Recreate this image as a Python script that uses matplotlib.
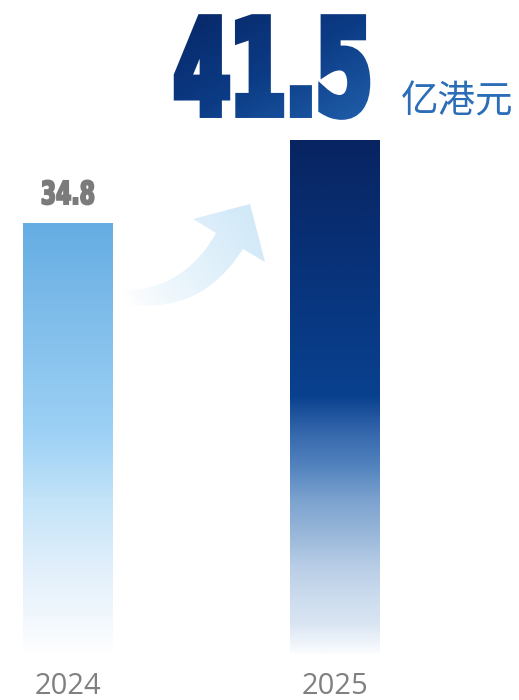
import numpy as np
import matplotlib.pyplot as plt
from matplotlib.colors import to_rgba
from matplotlib.patches import PathPatch
from matplotlib.path import Path
from matplotlib.transforms import Affine2D, Bbox
import matplotlib.patheffects as pe

# data
years = ['2024', '2025']
values = [34.8, 41.5]
value_labels = ['34.8', '41.5']
unit = '亿港元'

W, H = 519, 700
PT = 0.72  # points per pixel at dpi 100


def mix(stops, t):
    pos = np.array([s[0] for s in stops])
    cols = np.array([to_rgba(s[1]) for s in stops])
    return tuple(np.interp(t, pos, cols[:, k]) for k in range(4))


def gradient(stops, n=400):
    t = np.linspace(0, 1, n)
    return np.array([mix(stops, v) for v in t])[:, None, :]


class Tall(pe.AbstractPathEffect):
    """Stretch the glyphs upward from the baseline, thicken them, and fill
    with a diagonal gradient."""

    def __init__(self, sy, lw_px, stops, cell=4):
        super().__init__()
        self.sy, self.lw, self.stops, self.cell = sy, lw_px, stops, cell

    def draw_path(self, renderer, gc, tpath, affine, rgbFace=None):
        base = affine.transform([[0, 0]])[0][1]
        aff = affine + Affine2D().translate(0, -base).scale(1, self.sy).translate(0, base)
        bb = tpath.get_extents(aff)
        m = self.lw
        x0, x1 = np.floor(bb.x0 - m), np.ceil(bb.x1 + m)
        y0, y1 = np.floor(bb.y0 - m), np.ceil(bb.y1 + m)
        single = len(self.stops) == 1
        xs = [x0, x1] if single else np.arange(x0, x1 + self.cell, self.cell)
        ys = [y0, y1] if single else np.arange(y0, y1 + self.cell, self.cell)
        for a, b in zip(xs[:-1], xs[1:]):
            for c, d in zip(ys[:-1], ys[1:]):
                u = ((a + b) / 2 - x0) / (x1 - x0)
                v = (y1 - (c + d) / 2) / (y1 - y0)
                col = to_rgba(self.stops[0][1]) if single else mix(self.stops, 0.5 * (u + v))
                g = renderer.new_gc()
                g.copy_properties(gc)
                g.set_clip_rectangle(Bbox([[a, c], [b, d]]))
                g.set_linewidth(self.lw * PT)
                g.set_joinstyle('miter')
                g.set_foreground(col)
                renderer.draw_path(g, tpath, aff, col)
                g.restore()


bar_stops = [
    [(0.0, '#64ade3'), (0.18, '#7bbae9'), (0.49, '#9dd1f5'), (0.64, '#c2e3f8'),
     (0.80, '#e1effb'), (0.92, '#f2f8fd'), (1.0, '#ffffff')],
    [(0.0, '#082461'), (0.31, '#08367f'), (0.50, '#0a418f'), (0.57, '#3567ac'),
     (0.64, '#5585bf'), (0.70, '#7ba2cf'), (0.77, '#9ab8da'), (0.83, '#b8cde6'),
     (0.90, '#cfdeef'), (0.94, '#d8e4f2'), (1.0, '#fbfcfe')],
]

fig = plt.figure(figsize=(W / 100, H / 100), dpi=100)
ax = fig.add_axes([0, 0, 1, 1])
ax.set_xlim(-0.2547, 1.689)
ax.set_ylim(-3.71, 52.8)
ax.axis('off')

bar_w = 0.337
x = np.arange(len(values))
bars = ax.bar(x, values, width=bar_w, color='none', edgecolor='none')
for b, stops in zip(bars, bar_stops):
    x0, w, h = b.get_x(), b.get_width(), b.get_height()
    im = ax.imshow(gradient(stops), extent=(x0, x0 + w, 0, h), origin='upper',
                   aspect='auto', interpolation='bilinear', zorder=2)
    im.set_clip_path(b)

# decorative arrow, pixel space overlay
axp = fig.add_axes([0, 0, 1, 1])
axp.set_xlim(0, W)
axp.set_ylim(H, 0)
axp.axis('off')
axp.patch.set_alpha(0)

verts = [
    (122, 291),
    (172, 290), (200, 262), (216, 233),
    (193, 219), (250, 204), (265, 262), (243, 249),
    (215, 292), (180, 310), (128, 305),
    (122, 291),
]
codes = [Path.MOVETO, Path.CURVE4, Path.CURVE4, Path.CURVE4,
         Path.LINETO, Path.LINETO, Path.LINETO, Path.LINETO,
         Path.CURVE4, Path.CURVE4, Path.CURVE4, Path.CLOSEPOLY]
arrow = PathPatch(Path(verts, codes), fc='none', ec='none')
axp.add_patch(arrow)
gx, gy = np.meshgrid(np.linspace(115, 270, 200), np.linspace(195, 315, 160))
dv = np.array([250 - 125, 215 - 300.0])
t = np.clip(((gx - 125) * dv[0] + (gy - 300) * dv[1]) / (dv @ dv), 0, 1)
c0 = np.array(to_rgba('#ffffff'))
c1 = np.array(to_rgba('#d2e9f8'))
arr = c0 + (c1 - c0) * t[..., None] ** 0.8
im = axp.imshow(arr, extent=(115, 270, 315, 195), aspect='auto', zorder=1)
im.set_clip_path(arrow)

# value labels
label_cfg = [
    dict(dx=0, dy=19, size=15.8, sy=1.44, lw=2,
         stops=[(0, '#7b7b7b')]),
    dict(dx=-62, dy=26, size=57.7, sy=1.64, lw=8,
         stops=[(0, '#072565'), (0.5, '#0b3a84'), (1, '#2160ac')]),
]
for xi, v, s, cfg in zip(x, values, value_labels, label_cfg):
    ax.annotate(s, xy=(xi, v), xytext=(cfg['dx'] * PT, cfg['dy'] * PT),
                textcoords='offset points', ha='center', va='baseline',
                fontsize=cfg['size'], color=cfg['stops'][0][1], zorder=5,
                family='DejaVu Sans', weight='bold',
                path_effects=[Tall(cfg['sy'], cfg['lw'], cfg['stops'])])

# unit
ax.annotate(unit, xy=(x[-1], values[-1]), xytext=(66 * PT, 38 * PT),
            textcoords='offset points', ha='left', va='center',
            fontsize=27, color='#2c6db7', family=['Noto Sans CJK SC', 'DejaVu Sans'])

# year labels
for xi, yr in zip(x, years):
    ax.annotate(yr, xy=(xi, 0), xytext=(0, -40 * PT), textcoords='offset points',
                ha='center', va='baseline', fontsize=21, color='#808080',
                family=['Open Sans', 'DejaVu Sans'])

fig.savefig('out.png', dpi=100)
